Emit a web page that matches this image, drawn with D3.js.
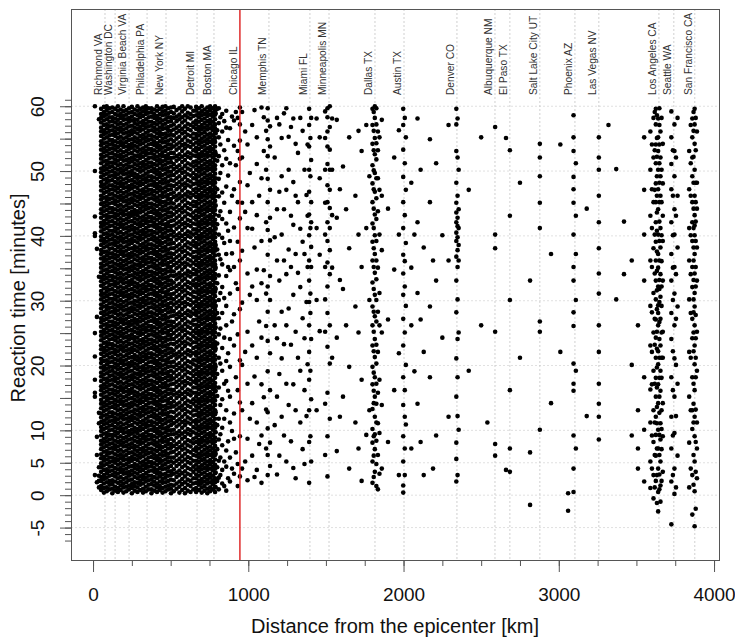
<!DOCTYPE html>
<html><head><meta charset="utf-8">
<script src="https://cdn.jsdelivr.net/npm/d3@7"></script>
<style>
html,body{margin:0;padding:0;background:#fff;}
svg{display:block;font-family:"Liberation Sans",Arial,Helvetica,sans-serif;}
</style></head><body>
<svg id="chart" width="735" height="639"></svg>
<script>
// ---------------- DATA ----------------
const cityNames = ["Richmond VA","Washington DC","Virginia Beach VA","Philadelphia PA","New York NY","Detroit MI","Boston MA","Chicago IL","Memphis TN","Miami FL","Minneapolis MN","Dallas TX","Austin TX","Denver CO","Albuquerque NM","El Paso TX","Salt Lake City UT","Phoenix AZ","Las Vegas NV","Los Angeles CA","Seattle WA","San Francisco CA"];
const cityKm = [77,142,232,348,470,670,779,946,1133,1397,1520,1816,2003,2344,2589,2685,2878,3104,3258,3645,3741,3876];
const highlightCity = "Chicago IL";
const xTickValues = [0,1000,2000,3000,4000];
const xMinorTicks = [0,250,500,750,1000,1250,1500,1750,2000,2250,2500,2750,3000,3250,3500,3750,4000];
const yMajorTicks = [-5,0,5,10,15,20,25,30,35,40,45,50,55,60];
const yTickLabels = [-5,0,5,10,20,30,40,50,60];
const yGridValues = [-5,0,5,10,20,30,40,50,60];

// Tweets, grouped by distance column. *Km = distance from the epicenter (km),
// *Times = reaction times of the tweets at that distance, in tenths of a minute.
// East-coast band: saturated (solid black) in the source, read as densely as it appears.
const eastKm = [12,25,38,52,70,88,106,124,142,160,178,196,214,232,250,268,286,304,322,340,358,376,394,412,430,448,466,484,502,520,538,556,574,592,610,628,646,664,682,700,718,736,754,772,786];
const eastTimes = [
"600 500 430 404 400 250 214 178 158 152 31",
"380 275 90 62 20",
"580 337 127 111 43 30 22 12",
"8 14 22 28 36 43 49 57 63 71 78 84 92 99 105 113 120 126 134 141 147 155 162 168 176 183 189 197 204 210 218 225 231 239 246 252 260 267 273 281 288 294 302 309 315 323 330 336 344 351 357 365 372 378 386 393 399 407 414 420 428 435 441 449 456 462 470 477 483 491 498 504 512 519 525 533 540 546 554 561 567 575 582 588 596",
"4 11 18 25 31 39 46 53 59 67 74 81 87 95 102 109 115 123 130 137 143 151 158 165 171 179 186 193 199 207 214 221 227 235 242 249 255 263 270 277 283 291 298 305 311 319 326 333 339 347 354 361 367 375 382 389 395 403 410 417 423 431 438 445 451 459 466 473 479 487 494 501 507 515 522 529 535 543 550 557 563 571 578 585 591 599",
"6 12 20 27 34 40 48 55 62 68 76 83 90 96 104 111 118 124 132 139 146 152 160 167 174 180 188 195 202 208 216 223 230 236 244 251 258 264 272 279 286 292 300 307 314 320 328 335 342 348 356 363 370 376 384 391 398 404 412 419 426 432 440 447 454 460 468 475 482 488 496 503 510 516 524 531 538 544 552 559 566 572 580 587 594 600",
"9 16 22 30 37 44 51 58 65 72 79 86 93 100 107 114 121 128 135 142 149 156 163 170 177 184 191 198 205 212 219 226 233 240 247 254 261 268 275 282 289 296 303 310 317 324 331 338 345 352 359 366 373 380 387 394 401 408 415 422 429 436 443 450 457 464 471 478 485 492 499 506 513 520 527 534 541 548 555 562 569 576 583 590 597",
"3 10 17 23 31 38 45 52 58 66 73 80 87 93 101 108 115 122 128 136 143 150 157 163 171 178 185 192 198 206 213 220 227 233 241 248 255 262 268 276 283 290 297 303 311 318 325 332 338 346 353 360 367 373 381 388 395 402 408 416 423 430 437 443 451 458 465 472 478 486 493 500 507 513 521 528 535 542 548 556 563 570 577 583 591 598",
"7 13 21 29 35 42 50 56 63 71 77 84 92 98 105 113 119 126 134 140 147 155 161 168 176 182 189 197 203 210 218 224 231 239 245 252 260 266 273 281 287 294 302 308 315 323 329 336 344 350 357 365 371 378 386 392 399 407 413 420 428 434 441 449 455 462 470 476 483 491 497 504 512 518 525 533 539 546 554 560 567 575 581 588 596",
"5 11 19 26 33 40 47 54 61 68 75 82 89 96 103 110 117 124 131 138 145 152 159 166 173 180 187 194 201 208 215 222 229 236 243 250 257 264 271 278 285 292 299 306 313 320 327 334 341 348 355 362 369 376 383 390 397 404 411 418 425 432 439 446 453 460 467 474 481 488 495 502 509 516 523 530 537 544 551 558 565 572 579 586 593 600",
"8 15 21 28 36 42 49 57 63 70 78 84 91 99 105 112 120 126 133 141 147 154 162 168 175 183 189 196 204 210 217 225 231 238 246 252 259 267 273 280 288 294 301 309 315 322 330 336 343 351 357 364 372 378 385 393 399 406 414 420 427 435 441 448 456 462 469 477 483 490 498 504 511 519 525 532 540 546 553 561 567 574 582 588 595",
"4 12 18 25 33 39 46 54 60 67 75 81 88 96 102 109 117 123 130 138 144 151 159 165 172 180 186 193 201 207 214 222 228 235 243 249 256 264 270 277 285 291 298 306 312 319 327 333 340 348 354 361 369 375 382 390 396 403 411 417 424 432 438 445 453 459 466 474 480 487 495 501 508 516 522 529 537 543 550 558 564 571 579 585 592 600",
"6 13 20 27 34 41 48 55 62 69 76 83 90 97 104 111 118 125 132 139 146 153 160 167 174 181 188 195 202 209 216 223 230 237 244 251 258 265 272 279 286 293 300 307 314 321 328 335 342 349 356 363 370 377 384 391 398 405 412 419 426 433 440 447 454 461 468 475 482 489 496 503 510 517 524 531 538 545 552 559 566 573 580 587 594",
"9 15 23 30 36 44 51 57 65 72 78 86 93 99 107 114 120 128 135 141 149 156 162 170 177 183 191 198 204 212 219 225 233 240 246 254 261 267 275 282 288 296 303 309 317 324 330 338 345 351 359 366 372 380 387 393 401 408 414 422 429 435 443 450 456 464 471 477 485 492 498 506 513 519 527 534 540 548 555 561 569 576 582 590 597",
"3 11 17 24 32 38 45 53 59 66 74 80 87 95 101 108 116 122 129 137 143 150 158 164 171 179 185 192 200 206 213 221 227 234 242 248 255 263 269 276 284 290 297 305 311 318 326 332 339 347 353 360 368 374 381 389 395 402 410 416 423 431 437 444 452 458 465 473 479 486 494 500 507 515 521 528 536 542 549 557 563 570 578 584 591 599",
"7 14 20 28 35 42 48 56 63 70 76 84 91 98 104 112 119 126 132 140 147 154 160 168 175 182 188 196 203 210 216 224 231 238 244 252 259 266 272 280 287 294 300 308 315 322 328 336 343 350 356 364 371 378 384 392 399 406 412 420 427 434 440 448 455 462 468 476 483 490 496 504 511 518 524 532 539 546 552 560 567 574 580 588 595",
"5 12 19 26 33 40 46 54 61 68 75 82 89 96 102 110 117 124 131 138 145 152 158 166 173 180 187 194 201 208 214 222 229 236 243 250 257 264 270 278 285 292 299 306 313 320 326 334 341 348 355 362 369 376 382 390 397 404 411 418 425 432 438 446 453 460 467 474 481 488 494 502 509 516 523 530 537 544 550 558 565 572 579 586 593 600",
"8 16 22 29 37 43 50 58 64 71 79 85 92 100 106 113 121 127 134 142 148 155 163 169 176 184 190 197 205 211 218 226 232 239 247 253 260 268 274 281 289 295 302 310 316 323 331 337 344 352 358 365 373 379 386 394 400 407 415 421 428 436 442 449 457 463 470 478 484 491 499 505 512 520 526 533 541 547 554 562 568 575 583 589 596",
"4 10 18 25 31 39 46 52 60 67 73 81 88 94 102 109 115 123 130 136 144 151 157 165 172 178 186 193 199 207 214 220 228 235 241 249 256 262 270 277 283 291 298 304 312 319 325 333 340 346 354 361 367 375 382 388 396 403 409 417 424 430 438 445 451 459 466 472 480 487 493 501 508 514 522 529 535 543 550 556 564 571 577 585 592 598",
"6 13 21 27 34 42 48 55 63 69 76 84 90 97 105 111 118 126 132 139 147 153 160 168 174 181 189 195 202 210 216 223 231 237 244 252 258 265 273 279 286 294 300 307 315 321 328 336 342 349 357 363 370 378 384 391 399 405 412 420 426 433 441 447 454 462 468 475 483 489 496 504 510 517 525 531 538 546 552 559 567 573 580 588 594 600",
"9 16 23 30 37 44 51 58 65 72 79 86 93 100 107 114 121 128 135 142 149 156 163 170 177 184 191 198 205 212 219 226 233 240 247 254 261 268 275 282 289 296 303 310 317 324 331 338 345 352 359 366 373 380 387 394 401 408 415 422 429 436 443 450 457 464 471 478 485 492 499 506 513 520 527 534 541 548 555 562 569 576 583 590 597",
"3 9 17 24 30 38 45 51 59 66 72 80 87 93 101 108 114 122 129 135 143 150 156 164 171 177 185 192 198 206 213 219 227 234 240 248 255 261 269 276 282 290 297 303 311 318 324 332 339 345 353 360 366 374 381 387 395 402 408 416 423 429 437 444 450 458 465 471 479 486 492 500 507 513 521 528 534 542 549 555 563 570 576 584 591 597",
"7 15 21 28 36 42 49 57 63 70 78 84 91 99 105 112 120 126 133 141 147 154 162 168 175 183 189 196 204 210 217 225 231 238 246 252 259 267 273 280 288 294 301 309 315 322 330 336 343 351 357 364 372 378 385 393 399 406 414 420 427 435 441 448 456 462 469 477 483 490 498 504 511 519 525 532 540 546 553 561 567 574 582 588 595",
"5 12 18 26 33 39 47 54 60 68 75 81 89 96 102 110 117 123 131 138 144 152 159 165 173 180 186 194 201 207 215 222 228 236 243 249 257 264 270 278 285 291 299 306 312 320 327 333 341 348 354 362 369 375 383 390 396 404 411 417 425 432 438 446 453 459 467 474 480 488 495 501 509 516 522 530 537 543 551 558 564 572 579 585 593 600",
"8 14 21 29 35 42 50 56 63 71 77 84 92 98 105 113 119 126 134 140 147 155 161 168 176 182 189 197 203 210 218 224 231 239 245 252 260 266 273 281 287 294 302 308 315 323 329 336 344 350 357 365 371 378 386 392 399 407 413 420 428 434 441 449 455 462 470 476 483 491 497 504 512 518 525 533 539 546 554 560 567 575 581 588 596",
"4 11 19 25 32 40 46 53 61 67 74 82 88 95 103 109 116 124 130 137 145 151 158 166 172 179 187 193 200 208 214 221 229 235 242 250 256 263 271 277 284 292 298 305 313 319 326 334 340 347 355 361 368 376 382 389 397 403 410 418 424 431 439 445 452 460 466 473 481 487 494 502 508 515 523 529 536 544 550 557 565 571 578 586 592 599",
"6 13 20 27 33 41 48 55 62 68 76 83 90 97 103 111 118 125 132 138 146 153 160 167 173 181 188 195 202 208 216 223 230 237 243 251 258 265 272 278 286 293 300 307 313 321 328 335 342 348 356 363 370 377 383 391 398 405 412 418 426 433 440 447 453 461 468 475 482 488 496 503 510 517 523 531 538 545 552 558 566 573 580 587 593 600",
"9 15 22 30 37 43 51 58 64 72 79 85 93 100 106 114 121 127 135 142 148 156 163 169 177 184 190 198 205 211 219 226 232 240 247 253 261 268 274 282 289 295 303 310 316 324 331 337 345 352 358 366 373 379 387 394 400 408 415 421 429 436 442 450 457 463 471 478 484 492 499 505 513 520 526 534 541 547 555 562 568 576 583 589 597",
"3 10 16 24 31 37 45 52 58 66 73 79 87 94 100 108 115 121 129 136 142 150 157 163 171 178 184 192 199 205 213 220 226 234 241 247 255 262 268 276 283 289 297 304 310 318 325 331 339 346 352 360 367 373 381 388 394 402 409 415 423 430 436 444 451 457 465 472 478 486 493 499 507 514 520 528 535 541 549 556 562 570 577 583 591 598",
"6 15 23 33 40 50 58 67 76 84 94 101 111 119 128 137 145 155 162 172 180 189 198 206 216 223 233 241 250 259 267 277 284 294 302 311 320 328 338 345 355 363 372 381 389 399 406 416 424 433 442 450 460 467 477 485 494 503 511 521 528 538 546 555 564 572 582 589 599",
"10 18 28 35 45 53 62 71 79 89 96 106 114 123 132 140 150 157 167 175 184 193 201 211 218 228 236 245 254 262 272 279 289 297 306 315 323 333 340 350 358 367 376 384 394 401 411 419 428 437 445 455 462 472 480 489 498 506 516 523 533 541 550 559 567 577 584 594",
"4 13 21 31 38 48 56 65 74 82 92 99 109 117 126 135 143 153 160 170 178 187 196 204 214 221 231 239 248 257 265 275 282 292 300 309 318 326 336 343 353 361 370 379 387 397 404 414 422 431 440 448 458 465 475 483 492 501 509 519 526 536 544 553 562 570 580 587 597",
"8 17 25 34 43 52 60 70 77 87 95 104 113 121 131 138 148 156 165 174 182 192 199 209 217 226 235 243 253 260 270 278 287 296 304 314 321 331 339 348 357 365 375 382 392 400 409 418 426 436 443 453 461 470 479 487 497 504 514 522 531 540 548 558 565 575 583 592 600",
"3 11 20 29 37 46 55 64 72 81 90 98 108 115 125 133 142 151 159 169 176 186 194 203 212 220 230 237 247 255 264 273 281 291 298 308 316 325 334 342 352 359 369 377 386 395 403 413 420 430 438 447 456 464 474 481 491 499 508 517 525 535 542 552 560 569 578 586 596",
"7 16 24 33 42 51 59 68 77 85 95 102 112 120 129 138 146 156 163 173 181 190 199 207 217 224 234 242 251 260 268 278 285 295 303 312 321 329 339 346 356 364 373 382 390 400 407 417 425 434 443 451 461 468 478 486 495 504 512 522 529 539 547 556 565 573 583 590 600",
"5 14 22 31 40 49 57 66 75 83 93 100 110 118 127 136 144 154 161 171 179 188 197 205 215 222 232 240 249 258 266 276 283 293 301 310 319 327 337 344 354 362 371 380 388 398 405 415 423 432 441 449 459 466 476 484 493 502 510 520 527 537 545 554 563 571 581 588 598",
"9 18 26 36 44 53 62 70 80 87 97 105 114 123 131 141 148 158 166 175 184 192 202 209 219 227 236 245 253 263 270 280 288 297 306 314 324 331 341 349 358 367 375 385 392 402 410 419 428 436 446 453 463 471 480 489 497 507 514 524 532 541 550 558 568 575 585 593",
"5 11 19 26 32 40 47 53 61 68 74 82 89 95 103 110 116 124 131 137 145 152 158 166 173 179 187 194 200 208 215 221 229 236 242 250 257 263 271 278 284 292 299 305 313 320 326 334 341 347 355 362 368 376 383 389 397 404 410 418 425 431 439 446 452 460 467 473 481 488 494 502 509 515 523 530 536 544 551 557 565 572 578 586 593 599",
"8 16 22 30 37 43 51 58 64 72 79 85 93 100 106 114 121 127 135 142 148 156 163 169 177 184 190 198 205 211 219 226 232 240 247 253 261 268 274 282 289 295 303 310 316 324 331 337 345 352 358 366 373 379 387 394 400 408 415 421 429 436 442 450 457 463 471 478 484 492 499 505 513 520 526 534 541 547 555 562 568 576 583 589 597",
"4 12 19 25 33 40 46 54 61 67 75 82 88 96 103 109 117 124 130 138 145 151 159 166 172 180 187 193 201 208 214 222 229 235 243 250 256 264 271 277 285 292 298 306 313 319 327 334 340 348 355 361 369 376 382 390 397 403 411 418 424 432 439 445 453 460 466 474 481 487 495 502 508 516 523 529 537 544 550 558 565 571 579 586 592 600",
"7 14 21 28 35 42 49 56 63 70 77 84 91 98 105 112 119 126 133 140 147 154 161 168 175 182 189 196 203 210 217 224 231 238 245 252 259 266 273 280 287 294 301 308 315 322 329 336 343 350 357 364 371 378 385 392 399 406 413 420 427 434 441 448 455 462 469 476 483 490 497 504 511 518 525 532 539 546 553 560 567 574 581 588 595",
"3 10 18 24 31 39 45 52 60 66 73 81 87 94 102 108 115 123 129 136 144 150 157 165 171 178 186 192 199 207 213 220 228 234 241 249 255 262 270 276 283 291 297 304 312 318 325 333 339 346 354 360 367 375 381 388 396 402 409 417 423 430 438 444 451 459 465 472 480 486 493 501 507 514 522 528 535 543 549 556 564 570 577 585 591 598",
"6 12 20 27 33 41 48 54 62 69 75 83 90 96 104 111 117 125 132 138 146 153 159 167 174 180 188 195 201 209 216 222 230 237 243 251 258 264 272 279 285 293 300 306 314 321 327 335 342 348 356 363 369 377 384 390 398 405 411 419 426 432 440 447 453 461 468 474 482 489 495 503 510 516 524 531 537 545 552 558 566 573 579 587 594 600",
"9 17 23 30 38 44 51 59 65 72 80 86 93 101 107 114 122 128 135 143 149 156 164 170 177 185 191 198 206 212 219 227 233 240 248 254 261 269 275 282 290 296 303 311 317 324 332 338 345 353 359 366 374 380 387 395 401 408 416 422 429 437 443 450 458 464 471 479 485 492 500 506 513 521 527 534 542 548 555 563 569 576 584 590 597",
"5 13 20 26 34 41 47 55 62 68 76 83 89 97 104 110 118 125 131 139 146 152 160 167 173 181 188 194 202 209 215 223 230 236 244 251 257 265 272 278 286 293 299 307 314 320 328 335 341 349 356 362 370 377 383 391 398 404 412 419 425 433 440 446 454 461 467 475 482 488 496 503 509 517 524 530 538 545 551 559 566 572 580 587 593 600"
];
// Beyond Boston: sparser columns
const farKm = [800,820,845,870,895,920,946,980,1010,1040,1070,1100,1125,1140,1170,1200,1230,1260,1290,1320,1350,1375,1392,1405,1460,1510,1525,1570,1610,1650,1690,1730,1760,1800,1815,1835,1860,1900,1940,1970,1998,2015,2050,2090,2130,2170,2210,2250,2290,2340,2355,2420,2500,2540,2590,2660,2685,2750,2815,2878,2950,3010,3060,3095,3110,3180,3258,3320,3370,3420,3470,3510,3550,3590,3610,3625,3640,3655,3670,3725,3745,3765,3840,3860,3875,3890,
790,810,832,858,882,908,932,960,995,1025,1055,1085,1115,1185,1215,1245,1275,1305,1335,1362,1382,1400,1440,1495,1540,1590,1630,1710,1780,1808,1825,1845,2008,2070,2110,2190,2348,3600,3618,3632,3648,3662,3735,3755,3850,3868,3882];
const farTimes = [
"22 43 71 108 153 187 234 281 327 379 418 472 516 563 596",
"31 58 94 139 203 257 312 364 438 497 541 583",
"14 52 118 172 243 304 389 451 532 577",
"26 83 161 219 352 408 493 548",
"41 99 268 373 462 584",
"66 182 327 509 591",
"29 91 143 208 287 362 427 483 519 547 572 598",
"52 221 437 561",
"118 309 497",
"28 183 382 594",
"79 268 462",
"151 347 531 583",
"31 62 103 128 191 238 283 322 371 409 452 488 523 549 578 597",
"45 81 162 219 301 338 393 428 471 538 569",
"108 262 398 521",
"61 187 331 468 572",
"92 233 362 441 589",
"139 288 379 502 553",
"42 171 309 417 483 581",
"212 343 452 528",
"71 273 391 562",
"122 298 463",
"19 82 131 178 221 262 298 331 362 401 433 468 502 538 571 596",
"52 148 241 352 383 421 452 517 582",
"253 371 489 552",
"29 91 158 229 281 322 359 392 421 452 478 511 538 561 583 597",
"118 203 262 341 378 412 443 471 502 533 568 600",
"68 243 428 579",
"152 318 507",
"41 198 381 552",
"112 291 462",
"22 178 352 531",
"93 412 571",
"19 52 81 102 133 171 198 231 262 291 328 362 391 419 452 481 509 542 571 596",
"36 71 94 121 152 182 213 241 276 309 343 372 401 433 468 497 526 551 582 600",
"9 62 111 158 221 283 351 438 489 532 561",
"41 139 251 378 462 579",
"82 271 442",
"162 348 521",
"31 219 402 563",
"4 15 52 91 139 182 231 272 309 342 371 412 452 491 533 571 596",
"109 201 292 389 471 552",
"72 262 351 482",
"141 312 421 581",
"31 221 382",
"182 291 452 549",
"92 331 512",
"243 401",
"121 362 571",
"21 56 81 152 211 282 331 368 392 405 421 436 451 482 531 572 596",
"101 251 362 386 412 441 502",
"192 471",
"262 552",
"112",
"61 79 252 381 402 568",
"39 551",
"36 72 162 301 431 532",
"212 482",
"-15 66 331",
"101 252 268 412 451 492 521 542",
"142 372",
"221 541",
"-24 3",
"5 41 92 161 172 203 261 282 331 352 402 451 472 491 531 552 586",
"72 192 301 372 431 512",
"122 442",
"86 121 141 172 221 262 311 342 381 421 462 502 521 552",
"571",
"302 503",
"341 422",
"92 201 362",
"41 72 131 262",
"21 101 182 331 402 471 552",
"11 52 112 163 231 292 362 431 502 561",
"-5 31 82 131 192 251 312 381 452 521 582",
"22 61 93 121 152 181 212 243 271 302 331 362 391 421 452 481 512 541 572 596",
"-25 5 41 72 101 142 171 202 222 262 281 293 322 351 372 402 441 472 502 531 552 581",
"-10 15 52 86 111 161 192 231 272 306 341 382 412 462 492 521 561",
"36 91 142 212 252 331 392 431 481 542",
"-45 21 72 121 182 241 281 331 372 421 472 511 552 592",
"2 41 96 152 211 262 311 352 402 441 492 531 572",
"61 172 291 382 462 582",
"12 81 152 221 302 362 412 472 531",
"-30 31 102 131 182 242 272 321 352 392 421 452 492 521 552 581",
"-48 6 52 91 121 162 202 231 262 291 312 342 372 401 416 432 462 502 542 572 596",
"26 72 112 192 252 331 382 442 482 561",
"12 35 64 97 128 161 198 226 259 292 318 351 386 411 447 489 527 558 589",
"9 27 53 86 118 166 212 248 273 301 339 371 402 431 461 488 523 552 574 597",
"18 39 77 104 148 192 227 281 321 356 397 426 467 509 561 588",
"7 44 69 131 176 207 262 292 338 372 419 476 519 567 593",
"21 58 112 152 198 241 311 347 392 437 512 566",
"33 87 126 231 279 352 413 472 539 578",
"14 48 162 248 318 391 452 531 582",
"41 131 201 297 377 451 521 591",
"23 87 172 252 342 412 478 541",
"61 142 231 322 411 452 571",
"39 112 212 301 348 432 511 552",
"19 92 171 243 327 392 489 598",
"72 132 261 311 421 502 562",
"32 152 242 362 441 582",
"121 211 283 402 492 551",
"52 172 262 341 471 597",
"83 232 352 431 568",
"26 131 252 372 462 542",
"112 192 321 411 582",
"48 162 242 372 502",
"202 352 431 541",
"91 192 281 311 412 492 551",
"131 301 412 581",
"62 141 252 302 352 402 451 502 551 592",
"212 351 432 502 581",
"121 332 472",
"262 441",
"72 251 402 562",
"131 301 492",
"28 61 91 142 161 189 222 252 283 318 352 381 412 442 472 501 532 562 591",
"14 48 84 112 141 172 203 232 268 301 333 362 392 426 458 489 518 543 572 597",
"33 96 178 262 312 402 471 552",
"31 72 121 162 251 322 361 432 512 582",
"191 402",
"82 271 502",
"41 362",
"31 122 182 241 302 352 378 398 415 428 462 521 581",
"41 92 171 221 282 352 412 472 541",
"12 62 112 172 232 272 342 402 471 532 591",
"-12 31 72 111 136 166 197 226 252 287 316 346 376 408 436 462 492 522 551 586",
"9 32 62 93 127 152 181 212 241 267 298 318 332 362 392 422 452 482 512 541 571 597",
"22 71 102 131 181 212 251 292 322 361 401 452 502 582",
"31 92 162 222 301 351 401 462 532",
"12 122 201 272 341 431 521",
"41 131 212 281 341 401 462 512 571",
"16 62 112 141 172 222 251 282 302 332 362 382 412 442 482 522 562 591",
"-21 36 82 132 182 212 242 278 322 352 392 422 452 482 532 582"
];

// ---------------- BUILD ----------------
function toPoints(kms, times){
  return kms.flatMap((km,i)=>(times[i]||"").trim().split(/\s+/).filter(s=>s.length).map(v=>({km:km, min:+v/10})));
}
const tweets = toPoints(eastKm, eastTimes).concat(toPoints(farKm, farTimes));

const svg = d3.select("#chart");
svg.append("rect").attr("width",735).attr("height",639).attr("fill","#fff");
const L=71, R=719, T=9, B=560;
const x = d3.scaleLinear().domain([-142, 4032]).range([L, R]);
const y = d3.scaleLinear().domain([-10, 75]).range([B, T]);

// horizontal grid
svg.append("g").selectAll("line").data(yGridValues).join("line")
  .attr("x1",L).attr("x2",R).attr("y1",d=>y(d)).attr("y2",d=>y(d))
  .attr("stroke","#d8d8d8").attr("stroke-width",0.8).attr("stroke-dasharray","2,2");

// city lines
const cities = cityNames.map((n,i)=>({name:n, km:cityKm[i]}));
svg.append("g").selectAll("line").data(cities.filter(c=>c.name!==highlightCity)).join("line")
  .attr("x1",d=>x(d.km)).attr("x2",d=>x(d.km)).attr("y1",T).attr("y2",B)
  .attr("stroke","#c4c4c4").attr("stroke-width",0.8).attr("stroke-dasharray","2,2");

// points
svg.append("g").selectAll("circle").data(tweets).join("circle")
  .attr("cx",d=>x(d.km)).attr("cy",d=>y(d.min)).attr("r",2.3).attr("fill","#000");

// highlight line
const hc = cities.find(c=>c.name===highlightCity);
svg.append("line").attr("x1",x(hc.km)).attr("x2",x(hc.km)).attr("y1",T).attr("y2",B)
  .attr("stroke","#dd1c1c").attr("stroke-width",1.4);

// city labels
svg.append("g").selectAll("text").data(cities).join("text")
  .attr("transform",d=>`translate(${x(d.km)-3},95) rotate(-90)`)
  .attr("text-anchor","start").attr("font-size",10.2).attr("fill","#333")
  .text(d=>d.name);

// box
svg.append("rect").attr("x",L).attr("y",T).attr("width",R-L).attr("height",B-T)
  .attr("fill","none").attr("stroke","#555").attr("stroke-width",1).attr("shape-rendering","crispEdges");

// x axis
const gx = svg.append("g").attr("transform",`translate(0,${B})`)
  .call(d3.axisBottom(x).tickValues(xTickValues).tickSize(12).tickFormat(d3.format("d")));
gx.select(".domain").remove();
gx.selectAll("line").attr("stroke","#555");
gx.selectAll("text").attr("y",41).attr("dy",null).attr("font-size",19).attr("fill","#111")
  .attr("font-family","Liberation Sans, Arial, sans-serif");
const gxm = svg.append("g").attr("transform",`translate(0,${B})`)
  .call(d3.axisBottom(x).tickValues(xMinorTicks).tickSize(6).tickFormat(""));
gxm.select(".domain").remove();
gxm.selectAll("line").attr("stroke","#555");

// y axis
const gym = svg.append("g").attr("transform",`translate(${L},0)`)
  .call(d3.axisLeft(y).tickValues(d3.range(-7,62)).tickSize(6).tickFormat(""));
gym.select(".domain").remove();
gym.selectAll("line").attr("stroke","#555");
const gy = svg.append("g").attr("transform",`translate(${L},0)`)
  .call(d3.axisLeft(y).tickValues(yMajorTicks).tickSize(11)
    .tickFormat(d=>yTickLabels.includes(d)?String(d):""));
gy.select(".domain").remove();
gy.selectAll("line").attr("stroke","#555");
gy.selectAll("text").attr("x",null).attr("dy",null)
  .attr("transform","translate(-27.5,0) rotate(-90)").attr("text-anchor","middle")
  .attr("font-size",19).attr("fill","#111").attr("font-family","Liberation Sans, Arial, sans-serif");

// titles
svg.append("text").attr("x",(L+R)/2).attr("y",633).attr("text-anchor","middle")
  .attr("font-size",20).attr("fill","#111").text("Distance from the epicenter [km]");
svg.append("text").attr("transform","translate(25,298) rotate(-90)").attr("text-anchor","middle")
  .attr("font-size",20).attr("fill","#111").text("Reaction time [minutes]");
</script>
</body></html>
